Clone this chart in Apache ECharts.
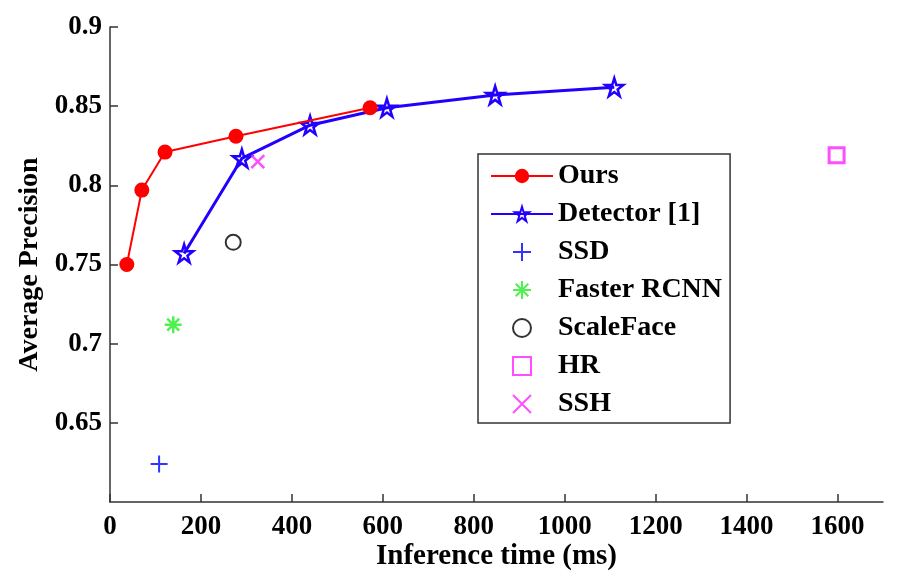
<!DOCTYPE html>
<html>
<head>
<meta charset="UTF-8">
<title>Average Precision vs Inference time</title>
<script src="https://cdn.jsdelivr.net/npm/echarts@6/dist/echarts.min.js"></script>
<style>
html, body { margin: 0; padding: 0; background: #fff; }
#chart { width: 898px; height: 582px; }
</style>
</head>
<body>
<div id="chart"></div>
<script>
// data
const oursTime = [37, 70, 121, 277, 572];
const oursAP = [0.750, 0.797, 0.821, 0.831, 0.849];
const detTime = [163, 290, 440, 609, 847, 1109];
const detAP = [0.757, 0.817, 0.838, 0.849, 0.857, 0.862];
const ssd = [108, 0.624];
const fasterRcnn = [139, 0.712];
const scaleFace = [271, 0.764];
const hr = [1598, 0.819];
const ssh = [325, 0.815];
const xTicks = [0, 200, 400, 600, 800, 1000, 1200, 1400, 1600];
const yTicks = [0.65, 0.7, 0.75, 0.8, 0.85, 0.9];

const font = 'Liberation Serif';
const pairs = (xs, ys) => xs.map((x, i) => [x, ys[i]]);

const starPath = 'path://M50,0L61,35L98,35L68,57L79,91L50,70L21,91L32,57L2,35L39,35Z';
const plusPath = 'path://M0,5L10,5M5,0L5,10';
const asteriskPath = 'path://M5,0L5,10M0,5L10,5M1.5,1.5L8.5,8.5M8.5,1.5L1.5,8.5';
const squarePath = 'path://M0,0L10,0L10,10L0,10Z';
const crossPath = 'path://M0,0L10,10M10,0L0,10';

const chart = echarts.init(document.getElementById('chart'));
chart.setOption({
  animation: false,
  grid: { left: 110, right: 15, top: 27, bottom: 80 },
  xAxis: {
    type: 'value', min: 0, max: 1700,
    name: 'Inference time (ms)', nameLocation: 'middle', nameGap: 40, nameMoveOverlap: false,
    nameTextStyle: { fontFamily: font, fontWeight: 'bold', fontSize: 29, color: '#000' },
    axisLine: { lineStyle: { color: '#333', width: 1.5 } },
    axisTick: { inside: true, length: 8, customValues: xTicks, lineStyle: { color: '#333', width: 1.5 } },
    axisLabel: { customValues: xTicks, margin: 12, fontFamily: font, fontWeight: 'bold', fontSize: 27, color: '#000',
      formatter: v => String(v) },
    splitLine: { show: false }
  },
  yAxis: {
    type: 'value', min: 0.6, max: 0.9,
    name: 'Average Precision', nameLocation: 'middle', nameGap: 66, nameMoveOverlap: false,
    nameTextStyle: { fontFamily: font, fontWeight: 'bold', fontSize: 28, color: '#000' },
    axisLine: { show: true, lineStyle: { color: '#333', width: 1.5 } },
    axisTick: { show: true, inside: true, length: 8, customValues: yTicks, lineStyle: { color: '#333', width: 1.5 } },
    axisLabel: { customValues: yTicks, margin: 8, fontFamily: font, fontWeight: 'bold', fontSize: 27, color: '#000' },
    splitLine: { show: false }
  },
  legend: {
    orient: 'vertical', left: 478, top: 154,
    padding: [8, 8, 5, 12],
    itemWidth: 62, itemHeight: 18, itemGap: 10,
    borderColor: '#333', borderWidth: 1.5, borderRadius: 0,
    textStyle: { fontFamily: font, fontWeight: 'bold', fontSize: 28, color: '#000' },
    data: ['Ours', 'Detector [1]', 'SSD', 'Faster RCNN', 'ScaleFace', 'HR', 'SSH']
  },
  series: [
    {
      name: 'Ours', type: 'line', data: pairs(oursTime, oursAP),
      symbol: 'circle', symbolSize: 15,
      lineStyle: { color: '#ff0000', width: 2 },
      itemStyle: { color: '#ff0000' }, z: 3
    },
    {
      name: 'Detector [1]', type: 'line', data: pairs(detTime, detAP),
      symbol: starPath, symbolSize: 18,
      lineStyle: { color: '#2200ff', width: 3 },
      itemStyle: { color: 'transparent', borderColor: '#2200ff', borderWidth: 2.5 }, z: 2
    },
    {
      name: 'SSD', type: 'scatter', data: [ssd], symbol: plusPath, symbolSize: 17,
      itemStyle: { color: 'transparent', borderColor: '#0000ff', borderWidth: 2 }
    },
    {
      name: 'Faster RCNN', type: 'scatter', data: [fasterRcnn], symbol: asteriskPath, symbolSize: 17,
      itemStyle: { color: 'transparent', borderColor: '#22ee22', borderWidth: 2.5 }
    },
    {
      name: 'ScaleFace', type: 'scatter', data: [scaleFace], symbol: 'circle', symbolSize: 15,
      itemStyle: { color: 'transparent', borderColor: '#000', borderWidth: 2 }
    },
    {
      name: 'HR', type: 'scatter', data: [hr], symbol: squarePath, symbolSize: 15,
      itemStyle: { color: 'transparent', borderColor: '#ff22ff', borderWidth: 3 }
    },
    {
      name: 'SSH', type: 'scatter', data: [ssh], symbol: crossPath, symbolSize: 13,
      itemStyle: { color: 'transparent', borderColor: '#ff22ff', borderWidth: 2.5 }
    }
  ]
});
</script>
</body>
</html>
